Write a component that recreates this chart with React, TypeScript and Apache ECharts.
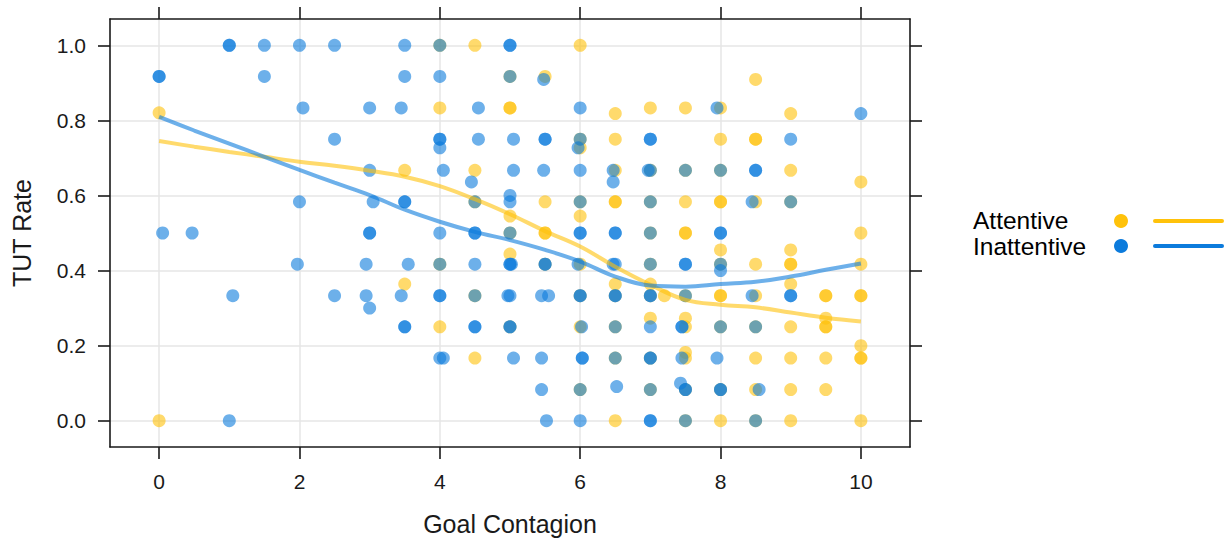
import React, { useEffect, useRef } from "react";
import * as echarts from "echarts";

const xTicks = [0, 2, 4, 6, 8, 10];
const yTicks = [0, 0.2, 0.4, 0.6, 0.8, 1.0];
const groupNames = ["Attentive", "Inattentive"];

const attentivePoints: number[][] = [
  [0, 0.82], [0, 0],
  [3.5, 0.667], [3.5, 0.364],
  [4, 1], [4, 0.833], [4, 0.417], [4, 0.25],
  [4.5, 1], [4.5, 0.667], [4.5, 0.583], [4.5, 0.333], [4.5, 0.167],
  [5, 0.917], [5, 0.833], [5, 0.833], [5, 0.545], [5, 0.5], [5, 0.444], [5, 0.25],
  [5.5, 0.917], [5.5, 0.583], [5.5, 0.5], [5.5, 0.5], [5.5, 0.417],
  [6, 1], [6, 0.75], [6, 0.727], [6, 0.583], [6, 0.545], [6, 0.417], [6, 0.333], [6, 0.25], [6, 0.083],
  [6.5, 0.818], [6.5, 0.75], [6.5, 0.667], [6.5, 0.583], [6.5, 0.583], [6.5, 0.364], [6.5, 0.333], [6.5, 0.25], [6.5, 0.167], [6.5, 0],
  [7, 0.833], [7, 0.667], [7, 0.583], [7, 0.5], [7, 0.417], [7, 0.364], [7, 0.333], [7.2, 0.333], [7, 0.273], [7, 0.167], [7, 0.083],
  [7.5, 0.833], [7.5, 0.667], [7.5, 0.583], [7.5, 0.5], [7.5, 0.5], [7.5, 0.333], [7.5, 0.273], [7.5, 0.25], [7.5, 0.182], [7.5, 0.167], [7.5, 0.083], [7.5, 0],
  [8, 0.833], [8, 0.75], [8, 0.667], [8, 0.583], [8, 0.583], [8, 0.455], [8, 0.417], [8, 0.333], [8, 0.333], [8, 0.25], [8, 0.083], [8, 0],
  [8.5, 0.909], [8.5, 0.75], [8.5, 0.75], [8.5, 0.583], [8.5, 0.417], [8.5, 0.333], [8.5, 0.25], [8.5, 0.167], [8.5, 0.083], [8.5, 0],
  [9, 0.818], [9, 0.667], [9, 0.583], [9, 0.455], [9, 0.417], [9, 0.417], [9, 0.364], [9, 0.25], [9, 0.167], [9, 0.083], [9, 0],
  [9.5, 0.333], [9.5, 0.333], [9.5, 0.273], [9.5, 0.25], [9.5, 0.25], [9.5, 0.167], [9.5, 0.083],
  [10, 0.636], [10, 0.5], [10, 0.417], [10, 0.333], [10, 0.333], [10, 0.2], [10, 0.167], [10, 0.167], [10, 0],
];

const inattentivePoints: number[][] = [
  [0, 0.917], [0, 0.917], [0.05, 0.5],
  [0.47, 0.5],
  [1, 1], [1, 1], [1.05, 0.333], [1, 0],
  [1.5, 1], [1.5, 0.917],
  [2, 1], [2.05, 0.833], [2, 0.583], [1.97, 0.417],
  [2.5, 1], [2.5, 0.75], [2.5, 0.333],
  [3, 0.833], [3, 0.667], [3.05, 0.583], [3, 0.5], [3, 0.5], [2.95, 0.417], [2.95, 0.333], [3, 0.3],
  [3.5, 1], [3.5, 0.917], [3.45, 0.833], [3.5, 0.583], [3.5, 0.583], [3.55, 0.417], [3.45, 0.333], [3.5, 0.25], [3.5, 0.25],
  [4, 1], [4, 0.917], [4, 0.75], [4, 0.75], [4, 0.727], [4.05, 0.667], [4, 0.5], [4, 0.417], [4, 0.333], [4, 0.333], [4.05, 0.167], [4, 0.167],
  [4.55, 0.833], [4.55, 0.75], [4.45, 0.636], [4.5, 0.583], [4.5, 0.5], [4.5, 0.5], [4.5, 0.417], [4.5, 0.333], [4.5, 0.25], [4.5, 0.25],
  [5, 1], [5, 1], [5, 0.917], [5.05, 0.75], [5.05, 0.667], [5, 0.6], [5, 0.583], [5, 0.5], [5, 0.417], [5, 0.417], [5.02, 0.417], [4.97, 0.333], [5, 0.333], [5, 0.25], [5, 0.25], [5.05, 0.167],
  [5.48, 0.909], [5.5, 0.75], [5.5, 0.75], [5.48, 0.667], [5.5, 0.417], [5.5, 0.417], [5.45, 0.333], [5.55, 0.333], [5.45, 0.167], [5.45, 0.083], [5.52, 0],
  [6, 0.833], [6, 0.75], [5.97, 0.727], [6, 0.667], [6, 0.583], [6, 0.5], [6, 0.5], [5.97, 0.417], [6, 0.333], [6, 0.333], [6.02, 0.25], [6.03, 0.167], [6.03, 0.167], [6, 0.083], [6, 0],
  [6.47, 0.667], [6.47, 0.636], [6.5, 0.5], [6.5, 0.5], [6.47, 0.417], [6.5, 0.417], [6.5, 0.333], [6.5, 0.333], [6.5, 0.25], [6.5, 0.167], [6.52, 0.091],
  [7, 0.75], [7, 0.75], [6.97, 0.667], [7, 0.667], [7, 0.583], [7, 0.5], [7, 0.417], [7, 0.333], [7, 0.333], [7, 0.25], [7, 0.167], [7, 0.167], [7, 0.083], [7, 0], [7, 0],
  [7.5, 0.667], [7.5, 0.417], [7.5, 0.417], [7.5, 0.333], [7.45, 0.25], [7.45, 0.25], [7.45, 0.167], [7.43, 0.1], [7.5, 0.083], [7.5, 0.083], [7.5, 0],
  [7.95, 0.833], [8, 0.667], [8, 0.5], [8, 0.5], [8, 0.417], [8, 0.4], [8, 0.25], [7.95, 0.167], [8, 0.083], [8, 0.083],
  [8.5, 0.667], [8.5, 0.667], [8.45, 0.583], [8.45, 0.333], [8.5, 0.25], [8.55, 0.083], [8.5, 0],
  [9, 0.75], [9, 0.583], [9, 0.333], [9, 0.333],
  [10, 0.818],
];

const smoothX = [0, 0.5, 1, 1.5, 2, 2.5, 3, 3.5, 4, 4.5, 5, 5.5, 6, 6.5, 7, 7.5, 8, 8.5, 9, 9.5, 10];
const attentiveSmooth = [0.745, 0.73, 0.716, 0.703, 0.69, 0.679, 0.666, 0.65, 0.625, 0.59, 0.55, 0.505, 0.464, 0.41, 0.362, 0.322, 0.309, 0.302, 0.288, 0.274, 0.264];
const inattentiveSmooth = [0.809, 0.773, 0.738, 0.703, 0.668, 0.634, 0.601, 0.562, 0.53, 0.503, 0.481, 0.455, 0.424, 0.384, 0.36, 0.357, 0.364, 0.37, 0.384, 0.402, 0.419];

const YELLOW = "#FFC20A";
const BLUE = "#0C7BDC";
const FONT = "'Liberation Sans', Arial, sans-serif";

export default function App() {
  const ref = useRef<HTMLDivElement>(null);
  useEffect(() => {
    if (!ref.current) return;
    const chart = echarts.init(ref.current, undefined, { renderer: "svg" });
    const axisLine = { show: true, onZero: false, lineStyle: { color: "#1a1a1a", width: 1.6 } };
    const tickStyle = { lineStyle: { color: "#1a1a1a", width: 1.6 } };
    const xMin = -0.7, xMax = 10.7, yMin = -0.07, yMax = 1.07;
    const option: any = {
      animation: false,
      backgroundColor: "#ffffff",
      textStyle: { fontFamily: FONT },
      grid: { left: 110, top: 19, width: 800, height: 428 },
      xAxis: [
        {
          type: "value", position: "bottom", min: xMin, max: xMax,
          axisLine,
          axisTick: { show: true, length: 12, customValues: xTicks, ...tickStyle },
          axisLabel: { customValues: xTicks, fontSize: 21, margin: 24, color: "#1a1a1a", fontFamily: FONT },
          splitLine: { show: true, lineStyle: { color: "#e6e6e6", width: 1.5 } },
          name: "Goal Contagion", nameLocation: "middle", nameGap: 64,
          nameTextStyle: { fontSize: 25, color: "#1a1a1a", fontFamily: FONT },
        },
        {
          type: "value", position: "top", min: xMin, max: xMax,
          axisLine,
          axisTick: { show: true, length: 12, customValues: xTicks, ...tickStyle },
          axisLabel: { show: false },
          splitLine: { show: false },
        },
      ],
      yAxis: [
        {
          type: "value", position: "left", min: yMin, max: yMax,
          axisLine,
          axisTick: { show: true, length: 12, customValues: yTicks, ...tickStyle },
          axisLabel: { customValues: yTicks, fontSize: 21, margin: 24, color: "#1a1a1a", fontFamily: FONT, formatter: (v: number) => v.toFixed(1) },
          splitLine: { show: true, lineStyle: { color: "#e6e6e6", width: 1.5 } },
          name: "TUT Rate", nameLocation: "middle", nameGap: 76, nameRotate: 90,
          nameTextStyle: { fontSize: 25, color: "#1a1a1a", fontFamily: FONT },
        },
        {
          type: "value", position: "right", min: yMin, max: yMax,
          axisLine,
          axisTick: { show: true, length: 12, customValues: yTicks, ...tickStyle },
          axisLabel: { show: false },
          splitLine: { show: false },
        },
      ],
      series: [
        {
          name: groupNames[0], type: "scatter", data: attentivePoints, symbolSize: 13,
          itemStyle: { color: YELLOW, opacity: 0.6 }, silent: true,
        },
        {
          name: groupNames[0] + " smooth", type: "line", data: smoothX.map((x, i) => [x, attentiveSmooth[i]]),
          smooth: 0.4, showSymbol: false, symbol: "none",
          lineStyle: { color: YELLOW, width: 4, opacity: 0.6 }, silent: true,
        },
        {
          name: groupNames[1], type: "scatter", data: inattentivePoints, symbolSize: 13,
          itemStyle: { color: BLUE, opacity: 0.6 }, silent: true,
        },
        {
          name: groupNames[1] + " smooth", type: "line", data: smoothX.map((x, i) => [x, inattentiveSmooth[i]]),
          smooth: 0.4, showSymbol: false, symbol: "none",
          lineStyle: { color: BLUE, width: 4, opacity: 0.6 }, silent: true,
        },
      ],
      graphic: [
        { type: "text", left: 973, top: 208, style: { text: groupNames[0], fontSize: 24.5, fontFamily: FONT, fill: "#000" } },
        { type: "text", left: 973, top: 234, style: { text: groupNames[1], fontSize: 24.5, fontFamily: FONT, fill: "#000" } },
        { type: "circle", shape: { cx: 1121, cy: 221, r: 7 }, style: { fill: YELLOW } },
        { type: "circle", shape: { cx: 1121, cy: 246, r: 7 }, style: { fill: BLUE } },
        { type: "line", shape: { x1: 1155, y1: 221, x2: 1222, y2: 221 }, style: { stroke: YELLOW, lineWidth: 4, lineCap: "round" } },
        { type: "line", shape: { x1: 1155, y1: 246, x2: 1222, y2: 246 }, style: { stroke: BLUE, lineWidth: 4, lineCap: "round" } },
      ],
    };
    chart.setOption(option);
    return () => chart.dispose();
  }, []);
  return <div ref={ref} style={{ position: "absolute", left: 0, top: 0, width: 1226, height: 542 }} />;
}
